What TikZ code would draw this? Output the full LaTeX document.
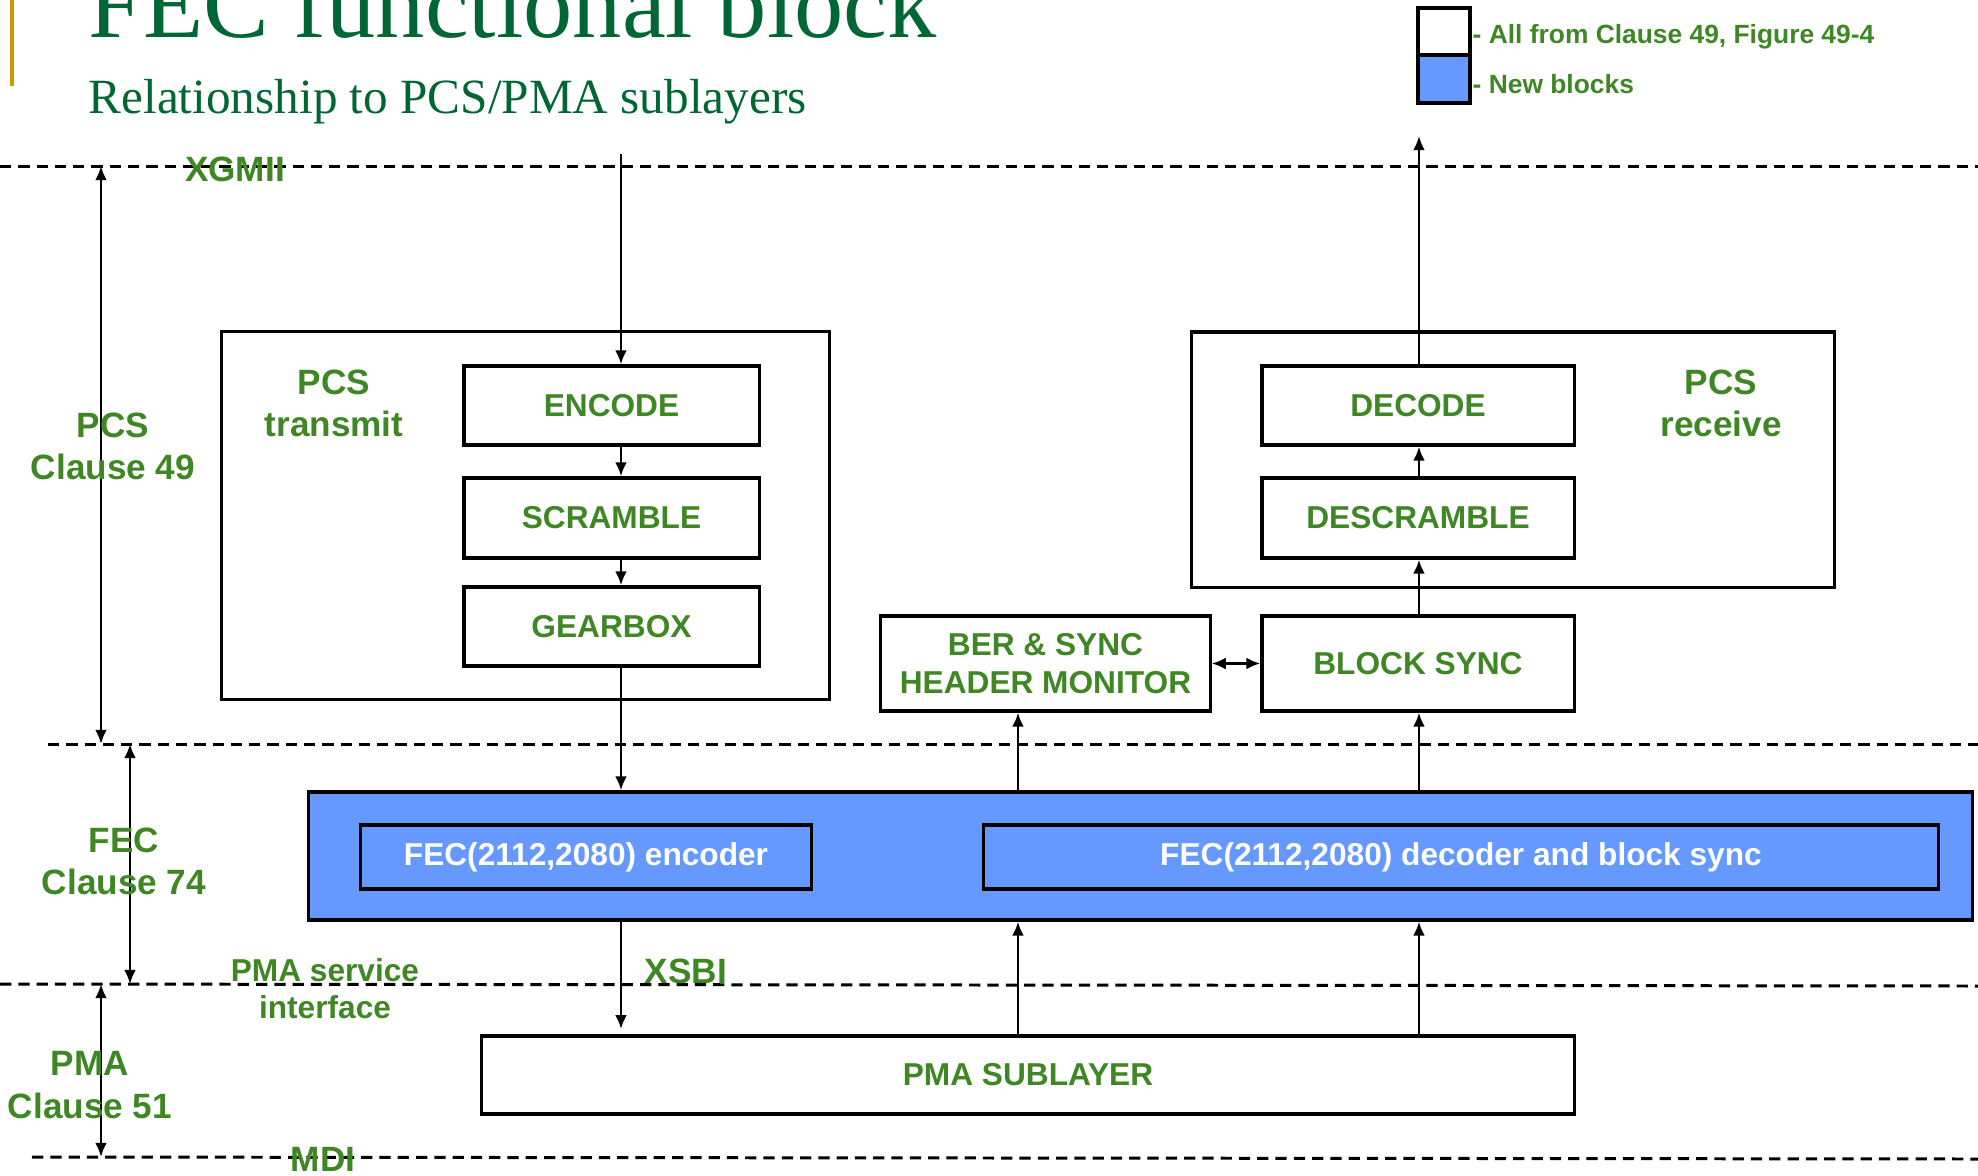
\documentclass[tikz,border=0pt]{standalone}
\usepackage{fontspec}
\setmainfont{Liberation Serif}
\setsansfont{Liberation Sans}
\usetikzlibrary{arrows.meta}
\definecolor{lgreen}{HTML}{3F8725}
\definecolor{tgreen}{HTML}{006633}
\definecolor{goldbar}{HTML}{CC9900}
\definecolor{fecblue}{HTML}{6699FF}
\begin{document}
\begin{tikzpicture}[x=0.01cm,y=-0.01cm,
 box/.style={draw=black, line width=0.9pt, fill=white, inner sep=0pt,
   font=\sffamily\bfseries\fontsize{9}{11}\selectfont, text=lgreen, align=center},
 bluebox/.style={box, fill=fecblue, text=white},
 lab/.style={font=\sffamily\bfseries\fontsize{10}{12}\selectfont, text=lgreen, align=center, inner sep=0pt},
 slab/.style={font=\sffamily\bfseries\fontsize{9}{10.5}\selectfont, text=lgreen, align=center, inner sep=0pt},
 legtext/.style={font=\sffamily\bfseries\fontsize{7.5}{9}\selectfont, text=lgreen, inner sep=0pt, anchor=west},
 divline/.style={dash pattern=on 3.2pt off 2pt, line width=0.85pt},
 arr/.style={line width=0.8pt, -{Latex[length=4pt,width=3.4pt]}},
 darr/.style={line width=0.8pt, {Latex[length=4pt,width=3.4pt]}-{Latex[length=4pt,width=3.4pt]}}
]
\useasboundingbox (0,0) rectangle (1978,1175);
\clip (0,0) rectangle (1978,1175);
\fill[white] (0,0) rectangle (1978,1175);

% title
\draw[goldbar, line width=1pt] (12,0) -- (12,86);
\node[anchor=base west, inner sep=0pt, text=tgreen, font=\fontsize{28}{30}\selectfont] (title) at (88,37) {FEC functional block};
\node[anchor=base west, inner sep=0pt, text=tgreen, font=\fontsize{14}{16}\selectfont] (subtitle) at (88,113.5) {Relationship to PCS/PMA sublayers};

% legend
\node[draw, line width=0.9pt, fill=white, minimum width=0.52cm, minimum height=0.47cm, inner sep=0pt] (lg1) at (1444,31.5) {};
\node[draw, line width=0.9pt, fill=fecblue, minimum width=0.52cm, minimum height=0.48cm, inner sep=0pt] (lg2) at (1444,79) {};
\node[legtext] (lt1) at (1472,37) {- All from Clause 49, Figure 49-4};
\node[legtext] (lt2) at (1472,84) {- New blocks};

% divider lines
\coordinate (d1a) at (0,166);   \coordinate (d1b) at (1978,166);
\coordinate (d2a) at (48,744);  \coordinate (d2b) at (1978,744);
\coordinate (d3a) at (0,984);   \coordinate (d3b) at (1978,986);
\coordinate (d4a) at (32,1157); \coordinate (d4b) at (1978,1159);
\draw[divline] (d1a) -- (d1b);
\draw[divline] (d2a) -- (d2b);
\draw[divline] (d3a) -- (d3b);
\draw[divline] (d4a) -- (d4b);

% left range arrows
\coordinate (p1) at (101,166); \coordinate (p2) at (101,744);
\coordinate (f1) at (130,744); \coordinate (f2) at (130,984);
\coordinate (m1) at (101,984); \coordinate (m2) at (101,1157);
\draw[darr] (p1) -- (p2);
\draw[darr] (f1) -- (f2);
\draw[darr] (m1) -- (m2);

% side labels
\node[lab] (lpcs) at (113,446) {PCS\\Clause 49};
\node[lab] (lfec) at (124,861) {FEC\\Clause 74};
\node[lab] (lpma) at (90,1085) {PMA\\Clause 51};
\node[lab] (lxgmii) at (235,169) {XGMII};
\node[lab] (lmdi) at (323,1159) {MDI};
\node[slab] (lpmasi) at (325,989) {PMA service\\interface};

% PCS transmit
\node[box, minimum width=6.07cm, minimum height=3.67cm] (pcstx) at (525.5,515.5) {};
\node[lab] (ltx) at (334,403) {PCS\\transmit};
\node[box, minimum width=2.95cm, minimum height=0.79cm] (enc) at (611.5,405.5) {ENCODE};
\node[box, minimum width=2.95cm, minimum height=0.80cm] (scr) at (611.5,518) {SCRAMBLE};
\node[box, minimum width=2.95cm, minimum height=0.79cm] (gear) at (611.5,626.5) {GEARBOX};

% PCS receive
\node[box, minimum width=6.42cm, minimum height=2.55cm] (pcsrx) at (1513,459.5) {};
\node[lab] (lrx) at (1721,403) {PCS\\receive};
\node[box, minimum width=3.12cm, minimum height=0.79cm] (dec) at (1418,405.5) {DECODE};
\node[box, minimum width=3.12cm, minimum height=0.80cm] (desc) at (1418,518) {DESCRAMBLE};

% BER and block sync
\node[box, minimum width=3.29cm, minimum height=0.95cm] (ber) at (1045.5,663.5) {BER \& SYNC\\HEADER MONITOR};
\node[box, minimum width=3.12cm, minimum height=0.95cm] (bsync) at (1418,663.5) {BLOCK SYNC};

% FEC
\node[bluebox, minimum width=16.63cm, minimum height=1.28cm] (fec) at (1140.5,856) {};
\node[bluebox, minimum width=4.50cm, minimum height=0.64cm] (fenc) at (586,857) {FEC(2112,2080) encoder};
\node[bluebox, minimum width=9.54cm, minimum height=0.64cm] (fdec) at (1461,857) {FEC(2112,2080) decoder and block sync};

% PMA
\node[box, minimum width=10.92cm, minimum height=0.78cm] (pma) at (1028,1075) {PMA SUBLAYER};
\node[lab] (lxsbi) at (686,971) {XSBI};

% connectors
\coordinate (xa) at (621,0);
\coordinate (xb) at (1018,0);
\coordinate (xc) at (1419,0);
\coordinate (xin) at (621,154);
\coordinate (xout) at (1419,136);
\draw[arr] (xin) -- (enc.north -| xa);
\draw[arr] (enc.south -| xa) -- (scr.north -| xa);
\draw[arr] (scr.south -| xa) -- (gear.north -| xa);
\draw[arr] (gear.south -| xa) -- (fec.north -| xa);
\draw[arr] (fec.south -| xa) -- ([yshift=1.5pt]pma.north -| xa);
\draw[arr] (pma.north -| xb) -- (fec.south -| xb);
\draw[arr] (pma.north -| xc) -- (fec.south -| xc);
\draw[arr] (fec.north -| xb) -- (ber.south -| xb);
\draw[arr] (fec.north -| xc) -- (bsync.south -| xc);
\draw[arr] (bsync.north -| xc) -- (desc.south -| xc);
\draw[arr] (desc.north -| xc) -- (dec.south -| xc);
\draw[arr] (dec.north -| xc) -- (xout);
\draw[darr] (ber.east) -- (bsync.west);
\end{tikzpicture}
\end{document}
